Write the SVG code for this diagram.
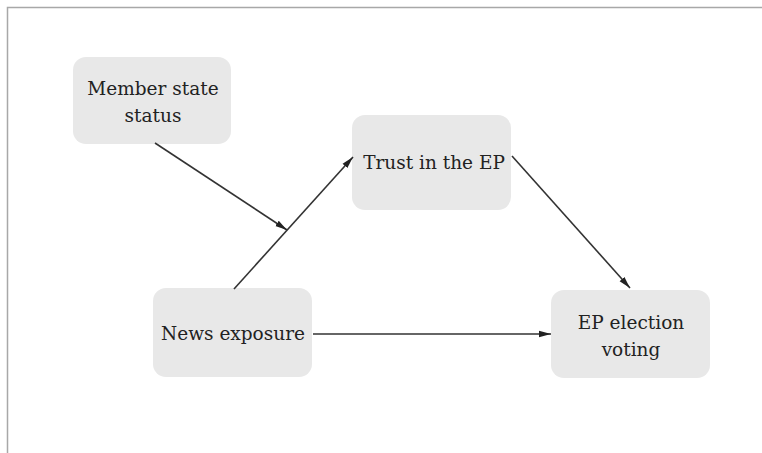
<svg xmlns="http://www.w3.org/2000/svg" width="762" height="453" viewBox="0 0 762 453">
<style>
.node rect{fill:#e8e8e8;stroke:none}
.node text{font-family:"DejaVu Serif",serif;font-size:18.5px;fill:#222;text-anchor:middle}
.edge{stroke:#333;stroke-width:1.6;fill:none;marker-end:url(#arr)}
</style>
<defs>
<marker id="arr" viewBox="0 0 12 8" refX="12" refY="4" markerWidth="12" markerHeight="8" markerUnits="userSpaceOnUse" orient="auto">
<path d="M0,0.8 L12,4 L0,7.2 Z" fill="#222"/>
</marker>
</defs>
<rect x="0" y="0" width="762" height="453" fill="#fff"/>
<path d="M7.5,453 V7.5 H762" stroke="#a8a8a8" stroke-width="1.5" fill="none"/>
<g id="member-state-status" class="node">
<rect x="73" y="57" width="158" height="87" rx="13"/>
<text x="153" y="95">Member state</text>
<text x="153" y="122">status</text>
</g>
<g id="trust-in-the-ep" class="node">
<rect x="352" y="115" width="159" height="95" rx="13"/>
<text x="434" y="169">Trust in the EP</text>
</g>
<g id="news-exposure" class="node">
<rect x="153" y="288" width="159" height="89" rx="13"/>
<text x="233" y="340">News exposure</text>
</g>
<g id="ep-election-voting" class="node">
<rect x="551" y="290" width="159" height="88" rx="13"/>
<text x="631" y="329">EP election</text>
<text x="631" y="356">voting</text>
</g>
<g id="connectors">
<line class="edge" x1="155" y1="143" x2="287" y2="230"/>
<line class="edge" x1="234" y1="289" x2="353" y2="157"/>
<line class="edge" x1="512" y1="156" x2="630" y2="288"/>
<line class="edge" x1="313" y1="334" x2="551" y2="334"/>
</g>
</svg>
